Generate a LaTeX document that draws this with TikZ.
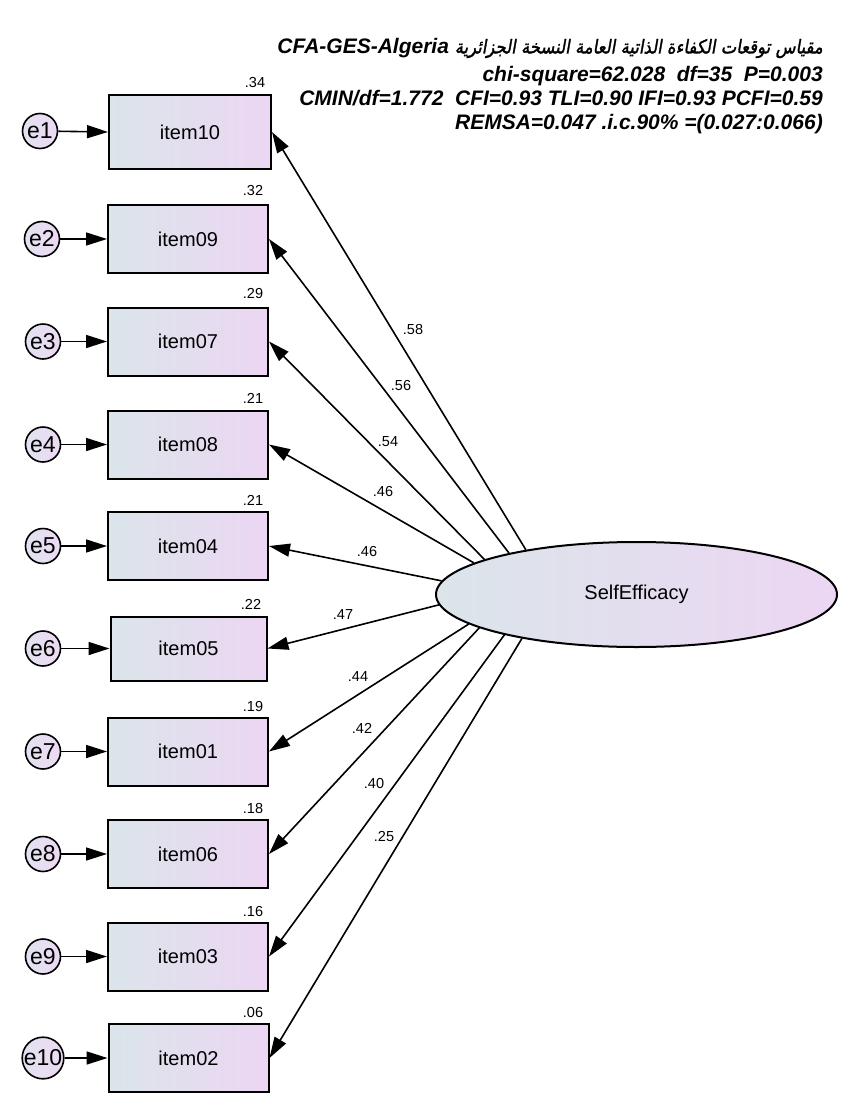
\documentclass[tikz,border=0pt]{standalone}
\usepackage{fontspec}
\setmainfont{Liberation Sans}
\TeXXeTstate=1
\newfontfamily\arabicfont[Script=Arabic,FakeBold=1.6,FakeSlant=0.2]{DejaVu Sans}
\usetikzlibrary{arrows.meta,shapes.geometric}
\definecolor{cleft}{RGB}{219,229,234}
\definecolor{cright}{RGB}{236,214,243}
\definecolor{eleft}{RGB}{226,226,240}
\definecolor{eright}{RGB}{236,218,242}
\begin{document}
\begin{tikzpicture}[x=1pt,y=-1pt,
  box/.style={draw,line width=2pt,minimum width=160pt,minimum height=68pt,inner sep=0pt,
    left color=cleft,right color=cright,font=\fontsize{20}{24}\selectfont},
  err/.style={draw,circle,line width=1.6pt,minimum size=35pt,inner sep=0pt,
    left color=eleft,right color=eright,font=\fontsize{23}{26}\selectfont},
  lat/.style={draw,ellipse,line width=2pt,minimum width=401pt,minimum height=105pt,inner sep=0pt,
    left color=cleft,right color=cright,font=\fontsize{20}{24}\selectfont},
  ar/.style={line width=1.6pt,-{Triangle[length=21pt,width=13pt]}},
  lab/.style={font=\fontsize{14.5}{16}\selectfont,inner sep=0pt},
]
\useasboundingbox (0,0) rectangle (850,1100);
% title
\node[anchor=north east,align=right,inner sep=0pt,font=\fontsize{21}{24.2}\selectfont\bfseries\itshape] (title) at (823,38)
{\hbox{CFA-GES-Algeria}\ \hbox{\resizebox{368pt}{\height}{\arabicfont\mdseries\upshape\fontsize{19}{24}\selectfont\beginR مقياس توقعات الكفاءة الذاتية العامة النسخة الجزائرية\endR}}\\[3.5pt]
chi-square=62.028\ \ df=35\ \ P=0.003\\
CMIN/df=1.772\ \ CFI=0.93 TLI=0.90 IFI=0.93 PCFI=0.59\\
REMSA=0.047 .i.c.90\% =(0.027:0.066)};
% latent
\node[lat] (se) at (636.5,594.5) {SelfEfficacy};
% items
\node[box,minimum width=162pt,minimum height=74pt] (i10) at (190,132) {item10};
\node[box] (i09) at (188,239) {item09};
\node[box] (i07) at (188,341.5) {item07};
\node[box] (i08) at (188,444.5) {item08};
\node[box] (i04) at (188,546) {item04};
\node[box,minimum width=156pt,minimum height=64pt] (i05) at (188.5,648.5) {item05};
\node[box] (i01) at (188,751.5) {item01};
\node[box] (i06) at (188,854) {item06};
\node[box] (i03) at (188,956.5) {item03};
\node[box] (i02) at (188.5,1058) {item02};
% errors
\node[err] (e1) at (40,131) {e1};
\node[err] (e2) at (42,239) {e2};
\node[err] (e3) at (43,341.5) {e3};
\node[err] (e4) at (43,444.5) {e4};
\node[err] (e5) at (43,546) {e5};
\node[err] (e6) at (43,648.5) {e6};
\node[err] (e7) at (43,751.5) {e7};
\node[err] (e8) at (43,854) {e8};
\node[err] (e9) at (43,956.5) {e9};
\node[err] (e10) at (43,1058) {e10};
% error arrows
\draw[ar] (e1) -- (i10.west);
\draw[ar] (e2) -- (i09);
\draw[ar] (e3) -- (i07);
\draw[ar] (e4) -- (i08);
\draw[ar] (e5) -- (i04);
\draw[ar] (e6) -- (i05);
\draw[ar] (e7) -- (i01);
\draw[ar] (e8) -- (i06);
\draw[ar] (e9) -- (i03);
\draw[ar] (e10) -- (i02);
% loadings
\draw[ar] (se.158.5) -- (i10.east);
\draw[ar] (se.162.5) -- (i09.east);
\draw[ar] (se.167.5) -- (i07.east);
\draw[ar] (se.169.5) -- (i08.east);
\draw[ar] (se.176.4) -- (i04.east);
\draw[ar] (se.183.6) -- (i05.east);
\draw[ar] (se.190.5) -- (i01.east);
\draw[ar] (se.192.5) -- (i06.east);
\draw[ar] (se.197.5) -- (i03.east);
\draw[ar] (se.201.5) -- (i02.east);
% loading labels
\node[lab] (l10) at (413,330) {.58};
\node[lab] (l09) at (401,386) {.56};
\node[lab] (l07) at (388,442) {.54};
\node[lab] (l08) at (383,492) {.46};
\node[lab] (l04) at (367,552) {.46};
\node[lab] (l05) at (343,615) {.47};
\node[lab] (l01) at (358,677) {.44};
\node[lab] (l06) at (362,728) {.42};
\node[lab] (l03) at (374,783) {.40};
\node[lab] (l02) at (384,836) {.25};
% R2 labels
\node[lab] (r10) at (255,83) {.34};
\node[lab] (r09) at (253,191) {.32};
\node[lab] (r07) at (253,294) {.29};
\node[lab] (r08) at (253,398) {.21};
\node[lab] (r04) at (253,500) {.21};
\node[lab] (r05) at (251,604) {.22};
\node[lab] (r01) at (253,706) {.19};
\node[lab] (r06) at (253,808) {.18};
\node[lab] (r03) at (253,911) {.16};
\node[lab] (r02) at (253,1012) {.06};
\end{tikzpicture}
\end{document}
